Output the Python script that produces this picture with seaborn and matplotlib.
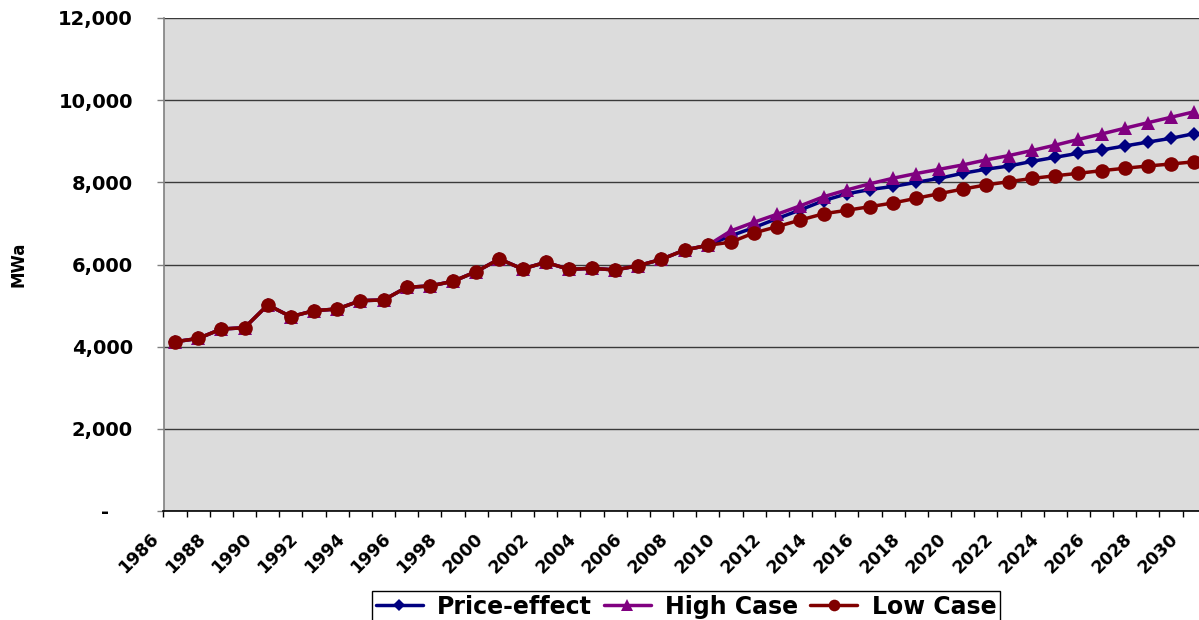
import matplotlib
matplotlib.use("Agg")
import matplotlib.pyplot as plt
import matplotlib.transforms as mtransforms
from matplotlib.ticker import FixedLocator, FixedFormatter, NullFormatter
import pandas as pd
import seaborn as sns

# Annual values, MWa
years = list(range(1986, 2031))
history = [4120, 4200, 4430, 4460, 5015, 4730, 4876, 4917, 5120, 5136,
           5445, 5477, 5590, 5826, 6134, 5891, 6054, 5883, 5907, 5867,
           5972, 6127, 6353, 6467]  # 1986-2009, shared by all cases
price_effect_fc = [6700, 6900, 7120, 7330, 7554, 7720, 7825, 7900, 8000, 8099,
                   8220, 8318, 8398, 8510, 8610, 8708, 8788, 8885, 8980, 9072, 9185]
high_case_fc = [6820, 7030, 7225, 7430, 7650, 7815, 7965, 8100, 8215, 8318,
                8423, 8544, 8652, 8775, 8905, 9045, 9177, 9316, 9452, 9584, 9718]
low_case_fc = [6545, 6770, 6922, 7084, 7235, 7320, 7408, 7498, 7612, 7725,
               7835, 7936, 8016, 8095, 8160, 8220, 8284, 8342, 8398, 8447, 8500]
series_names = ["Price-effect", "High Case", "Low Case"]

y_ticks = [0, 2000, 4000, 6000, 8000, 10000, 12000]
y_tick_labels = ["-", "2,000", "4,000", "6,000", "8,000", "10,000", "12,000"]
x_label_years = list(range(1986, 2031, 2))

df = pd.DataFrame({
    "year": years,
    "Price-effect": history + price_effect_fc,
    "High Case": history + high_case_fc,
    "Low Case": history + low_case_fc,
})

sns.set_theme(style="white")
plt.rcParams["font.family"] = ["DejaVu Sans"]
plt.rcParams["font.weight"] = "bold"
plt.rcParams["text.color"] = "black"
plt.rcParams["axes.labelcolor"] = "black"
plt.rcParams["legend.labelcolor"] = "black"

W, H = 1199, 620
fig = plt.figure(figsize=(W / 100, H / 100), dpi=100)
left_px, right_px, top_px, bottom_px = 163.5, 1205.8, 18, 511
ax = fig.add_axes([left_px / W, 1 - bottom_px / H,
                   (right_px - left_px) / W, (bottom_px - top_px) / H])
ax.set_facecolor("#DCDCDC")

styles = {
    "Price-effect": dict(color="#000080", marker="D", markersize=7.5),
    "High Case": dict(color="#800080", marker="^", markersize=10.5),
    "Low Case": dict(color="#800000", marker="o", markersize=10.5),
}
for name in series_names:
    st = styles[name]
    sns.lineplot(data=df, x="year", y=name, ax=ax, label=name,
                 color=st["color"], marker=st["marker"],
                 markersize=st["markersize"], markeredgewidth=0,
                 linewidth=2.5, zorder=3)

ax.set_xlim(1985.5, 2030.5)
ax.set_ylim(0, 12000)

# y axis
ax.yaxis.set_major_locator(FixedLocator(y_ticks))
ax.yaxis.set_major_formatter(FixedFormatter(y_tick_labels))
ax.tick_params(axis="y", which="major", direction="out", length=5, width=1,
               color="#808080", pad=17, labelsize=14, labelcolor="black", left=True)
ax.yaxis.grid(True, color="#3a3a3a", linewidth=1)
ax.set_axisbelow(True)
ax.set_ylabel("MWa", fontsize=12, fontweight="bold", color="black")
ax.yaxis.set_label_coords((27 - left_px) / (right_px - left_px), 0.5)

# the zero label sits further left, as in accounting number format
zero_lbl = ax.yaxis.get_majorticklabels()[0]
zero_lbl.set_transform(zero_lbl.get_transform() +
                       mtransforms.ScaledTranslation(-24 / 100, 0, fig.dpi_scale_trans))

# x axis: ticks between categories, labels on every other year
ax.xaxis.set_major_locator(FixedLocator([y - 0.5 for y in years] + [2030.5]))
ax.xaxis.set_major_formatter(NullFormatter())
ax.xaxis.set_minor_locator(FixedLocator(x_label_years))
ax.xaxis.set_minor_formatter(FixedFormatter([str(y) for y in x_label_years]))
ax.tick_params(axis="x", which="major", direction="out", length=4.3, width=1,
               color="black", bottom=True)
ax.tick_params(axis="x", which="minor", length=0, pad=18, labelsize=12.5,
               labelcolor="black", bottom=True)
shift = mtransforms.ScaledTranslation(-19 / 100, 0, fig.dpi_scale_trans)
for lbl in ax.xaxis.get_minorticklabels():
    lbl.set_rotation(45)
    lbl.set_ha("right")
    lbl.set_va("center")
    lbl.set_rotation_mode("anchor")
    lbl.set_fontweight("bold")
    lbl.set_transform(lbl.get_transform() + shift)
ax.set_xlabel("")

for side in ("top", "right"):
    ax.spines[side].set_visible(False)
ax.spines["left"].set_color("#808080")
ax.spines["left"].set_linewidth(1.2)
ax.spines["bottom"].set_color("black")
ax.spines["bottom"].set_linewidth(1.2)

handles, labels = ax.get_legend_handles_labels()
ax.get_legend().remove()
leg = fig.legend(handles, labels, loc="upper center",
                 bbox_to_anchor=(686 / W, 1 - 591 / H), ncol=3,
                 frameon=True, fancybox=False, edgecolor="black", framealpha=1,
                 facecolor="white", prop=dict(weight="bold", size=17),
                 handlelength=2.0, handletextpad=0.6, columnspacing=0.5,
                 borderpad=0.15, borderaxespad=0, markerscale=0.8)
leg.get_frame().set_linewidth(1)
for t in leg.get_texts():
    t.set_color("black")

fig.savefig("out.png", dpi=100)
